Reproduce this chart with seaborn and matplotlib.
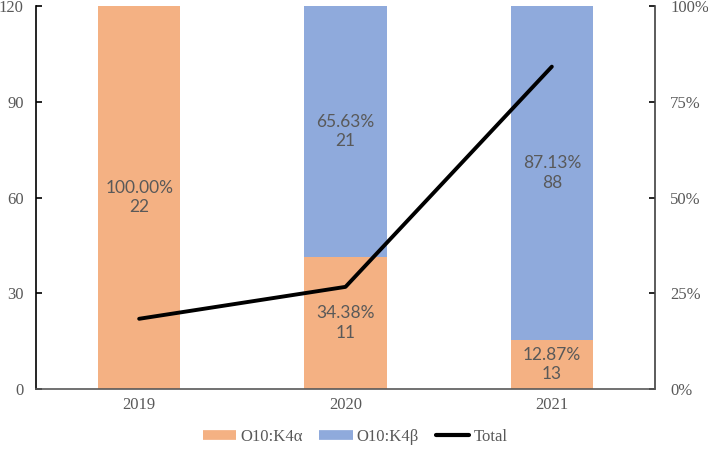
import numpy as np
import pandas as pd
import matplotlib
matplotlib.use('Agg')
import matplotlib.pyplot as plt
import seaborn as sns
from matplotlib.lines import Line2D

years = ['2019', '2020', '2021']
alpha_counts = [22, 11, 13]
beta_counts = [0, 21, 88]
totals = [22, 32, 101]
alpha_pct = [100.00, 34.38, 12.87]
beta_pct = [0.00, 65.63, 87.13]

orange = '#F4B183'
blue = '#8FAADC'
grey = '#595959'

sns.set_style('white')
plt.rcParams['font.family'] = ['Liberation Serif', 'DejaVu Serif']

fig = plt.figure(figsize=(7.08, 4.49), dpi=100)
ax = fig.add_axes([36 / 708, 60 / 449, 619 / 708, 383 / 449])
ax2 = ax.twinx()

df = pd.DataFrame({'year': years, 'alpha': np.array(alpha_pct) / 100,
                   'beta': np.array(beta_pct) / 100})

# stacked 100% bars on the right (percent) axis
sns.barplot(data=df, x='year', y='alpha', color=orange, width=0.4,
            saturation=1, linewidth=0, ax=ax2)
sns.barplot(data=df, x='year', y='beta', bottom=df['alpha'], color=blue,
            width=0.4, saturation=1, linewidth=0, ax=ax2)
ax2.set_ylim(0, 1)
ax2.set_yticks([0, 0.25, 0.5, 0.75, 1.0])
ax2.set_yticklabels(['0%', '25%', '50%', '75%', '100%'])

for i in range(len(years)):
    a = alpha_pct[i] / 100
    b = beta_pct[i] / 100
    if alpha_counts[i] > 0:
        ax2.text(i, a / 2, f'{alpha_pct[i]:.2f}%\n{alpha_counts[i]}',
                 ha='center', va='center', color=grey, fontsize=12.5,
                 family='Lato', linespacing=1.27)
    if beta_counts[i] > 0:
        ax2.text(i, a + b / 2, f'{beta_pct[i]:.2f}%\n{beta_counts[i]}',
                 ha='center', va='center', color=grey, fontsize=12.5,
                 family='Lato', linespacing=1.27)

# total line on the left (count) axis, drawn above the bars
sns.lineplot(x=[0, 1, 2], y=totals, color='black', linewidth=2.8, ax=ax)
ax.set_ylim(0, 120)
ax.set_yticks([0, 30, 60, 90, 120])
ax.set_xlim(-0.5, 2.5)
ax2.set_xlim(-0.5, 2.5)
ax.set_xticks([0, 1, 2])
ax.set_xticklabels(years)
ax.set_zorder(ax2.get_zorder() + 1)
ax.patch.set_visible(False)

for a in (ax, ax2):
    a.set_xlabel('')
    a.set_ylabel('')
    a.spines['top'].set_visible(False)
    a.tick_params(axis='y', direction='in', length=4, width=1.2,
                  colors='black', labelcolor=grey, labelsize=12)
    a.tick_params(axis='x', length=0, labelcolor=grey, labelsize=12, pad=6)
ax.tick_params(axis='y', pad=9)
ax2.tick_params(axis='y', pad=11)
ax.spines['left'].set_color('black')
ax.spines['left'].set_linewidth(1.2)
ax.spines['right'].set_visible(False)
ax2.spines['left'].set_visible(False)
ax2.spines['right'].set_color('#404040')
ax2.spines['right'].set_linewidth(1.2)
ax.spines['bottom'].set_color(grey)
ax.spines['bottom'].set_linewidth(1.2)
ax2.spines['bottom'].set_visible(False)

handles = [Line2D([0], [0], color=orange, linewidth=7, solid_capstyle='butt'),
           Line2D([0], [0], color=blue, linewidth=7, solid_capstyle='butt'),
           Line2D([0], [0], color='black', linewidth=3)]
fig.legend(handles, ['O10:K4α', 'O10:K4β', 'Total'], loc='center',
           bbox_to_anchor=(355 / 708, 0.027), ncol=3, frameon=False,
           fontsize=12, labelcolor=grey, handlelength=2.0,
           handletextpad=0.25, columnspacing=1.0)

fig.savefig('out.png', dpi=100)
